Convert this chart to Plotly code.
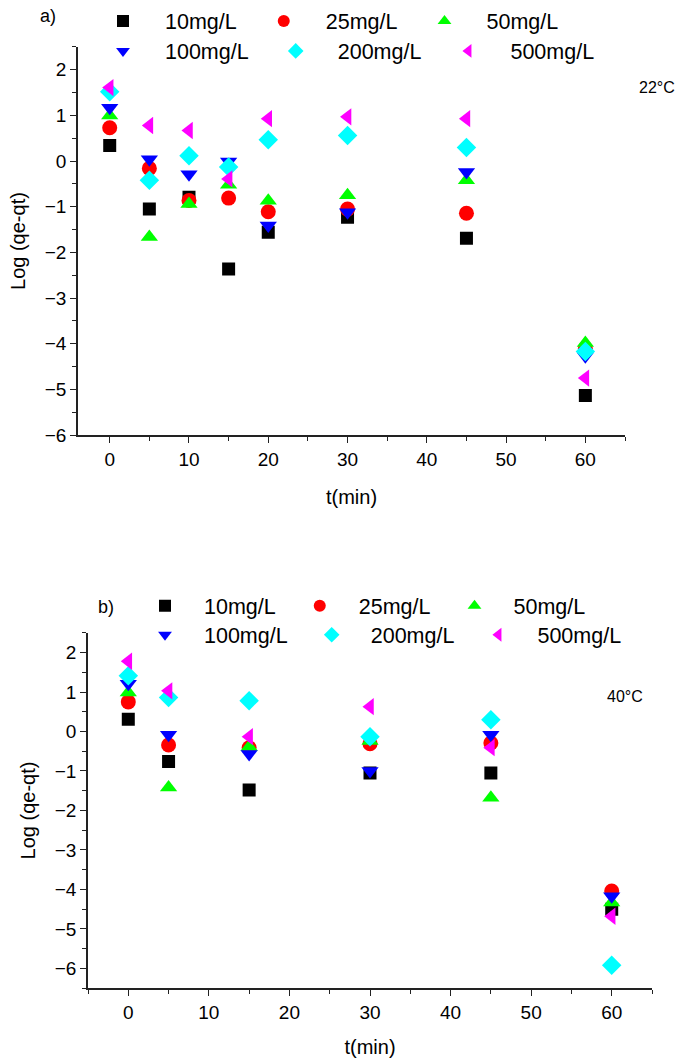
import plotly.graph_objects as go

W, H = 689, 1059

# ---- data (panel a, 22°C) ----
t_a = [0, 5, 10, 15, 20, 30, 45, 60]
a_10 = [0.34, -1.05, -0.79, -2.36, -1.56, -1.23, -1.69, -5.13]
a_25 = [0.73, -0.16, -0.86, -0.81, -1.11, -1.05, -1.14, -4.10]
a_50 = [1.00, -1.66, -0.94, -0.52, -0.87, -0.75, -0.42, -3.98]
a_100 = [1.17, 0.04, -0.29, -0.01, -1.41, -1.12, -0.24, -4.27]
a_200 = [1.52, -0.42, 0.12, -0.13, 0.47, 0.56, 0.30, -4.17]
a_500 = [1.61, 0.78, 0.67, -0.39, 0.93, 0.97, 0.93, -4.75]

# ---- data (panel b, 40°C) ----
t_b = [0, 5, 15, 30, 45, 60]
b_10 = [0.31, -0.76, -1.48, -1.05, -1.05, -4.50]
b_25 = [0.75, -0.34, -0.41, -0.31, -0.29, -4.04]
b_50 = [0.99, -1.42, -0.39, -0.24, -1.68, -4.33]
b_100 = [1.21, -0.08, -0.57, -1.00, -0.08, -4.17]
b_200 = [1.41, 0.86, 0.78, -0.13, 0.30, -5.92]
b_500 = [1.78, 1.03, -0.13, 0.63, -0.41, -4.68]

series_names = ["10mg/L", "25mg/L", "50mg/L", "100mg/L", "200mg/L", "500mg/L"]
colors = ["#000000", "#FF0000", "#00FF00", "#0000FF", "#00FFFF", "#FF00FF"]
symbols = ["square", "circle", "triangle-up", "triangle-down", "diamond", "triangle-left"]
sizes = [13, 15, 15, 15, 15, 15]

FONT = "Liberation Sans, Arial, sans-serif"

fig = go.Figure()

a_vals = [a_10, a_25, a_50, a_100, a_200, a_500]
b_vals = [b_10, b_25, b_50, b_100, b_200, b_500]

for i, (name, ys) in enumerate(zip(series_names, a_vals)):
    fig.add_trace(go.Scatter(
        x=t_a, y=ys, mode="markers", name=name,
        marker=dict(symbol=symbols[i], color=colors[i], size=sizes[i], line=dict(width=0)),
        xaxis="x", yaxis="y",
        legend="legend" if i < 3 else "legend2",
    ))
for i, (name, ys) in enumerate(zip(series_names, b_vals)):
    fig.add_trace(go.Scatter(
        x=t_b, y=ys, mode="markers", name=name,
        marker=dict(symbol=symbols[i], color=colors[i], size=sizes[i], line=dict(width=0)),
        xaxis="x2", yaxis="y2",
        legend="legend3" if i < 3 else "legend4",
    ))

def px_x(p):
    return p / W

def px_y(p):
    return 1 - p / H

axis_common = dict(
    showline=True, linecolor="#222222", linewidth=1.5, mirror=False,
    ticks="outside", ticklen=6, tickwidth=1.3, tickcolor="#222222",
    showgrid=False, zeroline=False, automargin=False,
    tickfont=dict(family=FONT, size=19, color="#000000"),
)
minor_common = dict(ticks="outside", ticklen=4, tickwidth=1.2, tickcolor="#222222")
title_font = dict(family=FONT, size=20, color="#000000")

fig.update_layout(
    width=W, height=H,
    margin=dict(l=0, r=0, t=0, b=0),
    paper_bgcolor="white", plot_bgcolor="white",
    font=dict(family=FONT, color="#000000"),
    xaxis=dict(domain=[px_x(78), px_x(625)], range=[-4, 65], dtick=10, tick0=0,
               minor=dict(dtick=5, **minor_common),
               title=dict(text="t(min)", font=title_font, standoff=21),
               anchor="y", **axis_common),
    yaxis=dict(domain=[px_y(434), px_y(45)], range=[-6, 2.5], dtick=1, tick0=0,
               minor=dict(dtick=0.5, **minor_common),
               title=dict(text="Log (qe-qt)", font=title_font, standoff=14),
               anchor="x", **axis_common),
    xaxis2=dict(domain=[px_x(88), px_x(652)], range=[-5, 65], dtick=10, tick0=0,
                minor=dict(dtick=5, **minor_common),
                title=dict(text="t(min)", font=title_font, standoff=18),
                anchor="y2", **axis_common),
    yaxis2=dict(domain=[px_y(988), px_y(632)], range=[-6.5, 2.5], dtick=1, tick0=0,
                minor=dict(dtick=0.5, **minor_common),
                title=dict(text="Log (qe-qt)", font=title_font, standoff=14),
                anchor="x2", **axis_common),
)

leg_common = dict(orientation="h", xanchor="left", yanchor="middle",
                  bgcolor="rgba(0,0,0,0)", borderwidth=0,
                  font=dict(family=FONT, size=21.5, color="#000000"),
                  tracegroupgap=0, itemsizing="constant")

fig.update_layout(
    legend=dict(x=px_x(81), y=px_y(19), itemwidth=74, **leg_common),
    legend2=dict(x=px_x(81), y=px_y(49), itemwidth=74, **leg_common),
    legend3=dict(x=px_x(126), y=px_y(605), itemwidth=68, **leg_common),
    legend4=dict(x=px_x(126), y=px_y(634), itemwidth=68, **leg_common),
)

fig.add_annotation(text="a)", x=px_x(48), y=px_y(14), xref="paper", yref="paper",
                   showarrow=False, font=dict(family=FONT, size=18), xanchor="center", yanchor="middle")
fig.add_annotation(text="b)", x=px_x(106), y=px_y(606), xref="paper", yref="paper",
                   showarrow=False, font=dict(family=FONT, size=18), xanchor="center", yanchor="middle")
fig.add_annotation(text="22°C", x=px_x(657), y=px_y(86), xref="paper", yref="paper",
                   showarrow=False, font=dict(family=FONT, size=16), xanchor="center", yanchor="middle")
fig.add_annotation(text="40°C", x=px_x(625), y=px_y(696), xref="paper", yref="paper",
                   showarrow=False, font=dict(family=FONT, size=16), xanchor="center", yanchor="middle")

fig.write_html("out.html", config={"displayModeBar": False},
               post_script="document.body.style.margin='0';document.body.style.padding='0';")
